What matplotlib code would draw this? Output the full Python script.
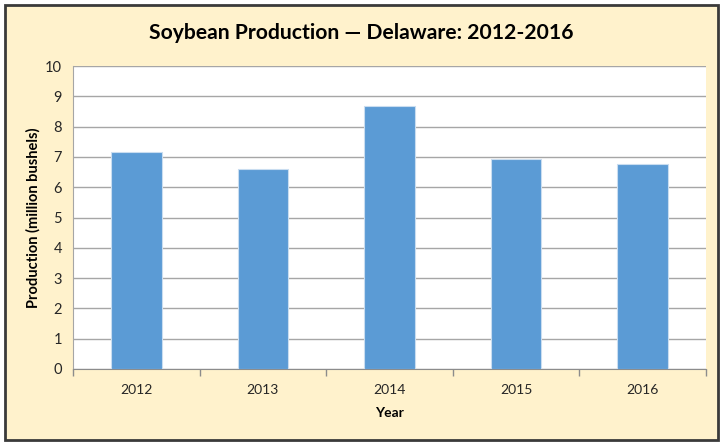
import matplotlib
matplotlib.use("Agg")
import matplotlib.pyplot as plt
from matplotlib.patches import Rectangle
import numpy as np

years = ["2012", "2013", "2014", "2015", "2016"]
production = [7.15, 6.59, 8.68, 6.93, 6.78]
yticks = list(range(0, 11))

plt.rcParams['font.family'] = ['Lato', 'DejaVu Sans']

fig = plt.figure(figsize=(7.22, 4.45), dpi=100, facecolor="white")

# cream panel with dark frame, kept behind the axes
W, H = 722, 445
fig.patches.append(Rectangle((5 / W, 5 / H), 713 / W, 435 / H, transform=fig.transFigure,
                             facecolor="#FFF2CC", edgecolor="#3A3A3A", linewidth=2, zorder=-5))

ax = fig.add_axes([73 / W, 1 - 369 / H, (706 - 73) / W, (369 - 66) / H])
ax.set_zorder(2)
ax.set_facecolor("white")

x = np.arange(len(years))
ax.bar(x, production, width=0.4, color="#5B9BD5", edgecolor="#C9DDF0", linewidth=0.8, zorder=3)

ax.set_xlim(-0.5, len(years) - 0.5)
ax.set_ylim(0, 10)
ax.set_yticks(yticks)
ax.yaxis.grid(True, color="#A6A6A6", linewidth=1, zorder=0)

ax.set_xticks(x)
ax.set_xticklabels(years)
ax.set_xticks(np.arange(-0.5, len(years)), minor=True)
ax.tick_params(axis="x", which="major", length=0, pad=11, labelsize=10, colors="#262626")
ax.tick_params(axis="x", which="minor", length=5, color="#8C8C8C", width=1)
ax.tick_params(axis="y", length=0, pad=8, labelsize=10.5, colors="#262626")

for s in ["top", "right"]:
    ax.spines[s].set_visible(False)
ax.spines["left"].set_color("#A6A6A6")
ax.spines["bottom"].set_color("#8C8C8C")

ax.set_xlabel("Year", fontsize=10, fontweight="bold", labelpad=8)
ax.set_ylabel("Production (million bushels)", fontsize=10.5, fontweight="bold", labelpad=3)

fig.text(0.5, 1 - 33 / H, "Soybean Production \u2014 Delaware: 2012-2016",
         ha="center", va="center", fontsize=15.2, fontweight="bold", color="black")

fig.savefig("out.png", dpi=100, facecolor=fig.get_facecolor())
